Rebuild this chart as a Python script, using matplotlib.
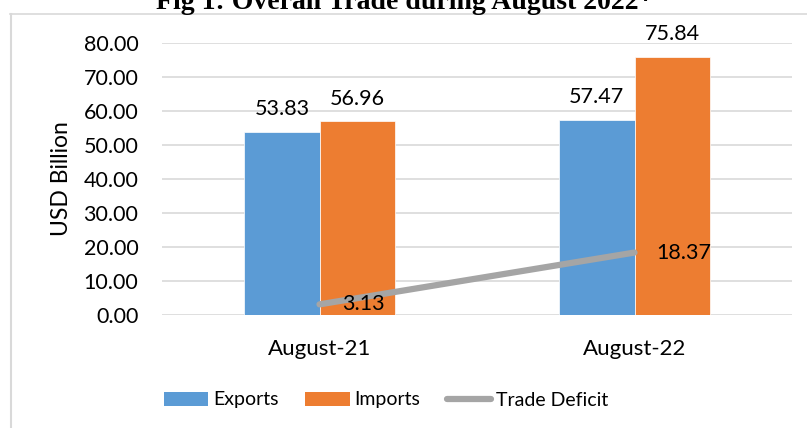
import matplotlib
matplotlib.use("Agg")
import matplotlib.pyplot as plt
from matplotlib.lines import Line2D
from matplotlib.patches import Patch
import numpy as np

categories = ["August-21", "August-22"]
exports = [53.83, 57.47]
imports = [56.96, 75.84]
deficit = [3.13, 18.37]
yticks = [0, 10, 20, 30, 40, 50, 60, 70, 80]
title = "Fig 1: Overall Trade during August 2022*"

BLUE = "#5B9BD5"
ORANGE = "#ED7D31"
GRAY = "#A5A5A5"
FONT = "Lato"

plt.rcParams['font.family'] = [FONT, 'DejaVu Sans']

W, H = 807, 428
fig = plt.figure(figsize=(W/100, H/100), dpi=100)
ax = fig.add_axes([162/W, 1-315/H, (792-162)/W, (315-43)/H])

x = np.arange(len(categories))
bw = 0.239
ax.bar(x - bw/2, exports, bw, color=BLUE, edgecolor="white", linewidth=0.5, zorder=2)
ax.bar(x + bw/2, imports, bw, color=ORANGE, edgecolor="white", linewidth=0.5, zorder=2)
ax.plot(x, deficit, color=GRAY, linewidth=4.5, solid_capstyle="round", zorder=3)

fs = 15.5
for xi, v in zip(x - bw/2, exports):
    ax.annotate(f"{v:.2f}", (xi, v), xytext=(0, 12), textcoords="offset points",
                ha="center", va="baseline", fontsize=fs, color="#000000")
for xi, v in zip(x + bw/2, imports):
    ax.annotate(f"{v:.2f}", (xi, v), xytext=(0, 12), textcoords="offset points",
                ha="center", va="baseline", fontsize=fs, color="#000000")
for xi, v in zip(x, deficit):
    ax.annotate(f"{v:.2f}", (xi, v), xytext=(16, 0), textcoords="offset points",
                ha="left", va="center", fontsize=fs, color="#000000", zorder=4)

ax.set_xlim(-0.5, 1.5)
ax.set_ylim(0, 80)
ax.set_yticks(yticks)
ax.set_yticklabels([f"{t:.2f}" for t in yticks], fontsize=fs, color="#000000")
ax.set_xticks(x)
ax.set_xticklabels(categories, fontsize=fs + 0.5, color="#000000")
ax.tick_params(axis="y", length=0, pad=17)
ax.tick_params(axis="x", length=0, pad=17)
for s in ax.spines.values():
    s.set_visible(False)
ax.yaxis.grid(True, color="#D9D9D9", linewidth=1.2, zorder=0)
ax.set_axisbelow(True)
ax.set_ylabel("USD Billion", fontsize=16.5, color="#000000", labelpad=8)

handles = [Patch(facecolor=BLUE, label="Exports"),
           Patch(facecolor=ORANGE, label="Imports"),
           Line2D([0], [0], color=GRAY, linewidth=4.5, solid_capstyle="round", label="Trade Deficit")]
fig.legend(handles=handles, loc="center", bbox_to_anchor=(386/W, 1-400/H), ncol=3,
           frameon=False, fontsize=14, handlelength=2.3, handleheight=0.75,
           handletextpad=0.25, columnspacing=1.35)

# chart frame lines
fig.add_artist(Line2D([10/W, 1], [1-14/H, 1-14/H], transform=fig.transFigure, color="#D9D9D9", linewidth=1.2))
fig.add_artist(Line2D([10.5/W, 10.5/W], [0, 1-14/H], transform=fig.transFigure, color="#D9D9D9", linewidth=1.5))

fig.text(404/W, 1-9/H, title, ha="center", va="baseline", fontsize=20,
         fontweight="bold", family="Liberation Serif")

fig.savefig("out.png", dpi=100)
